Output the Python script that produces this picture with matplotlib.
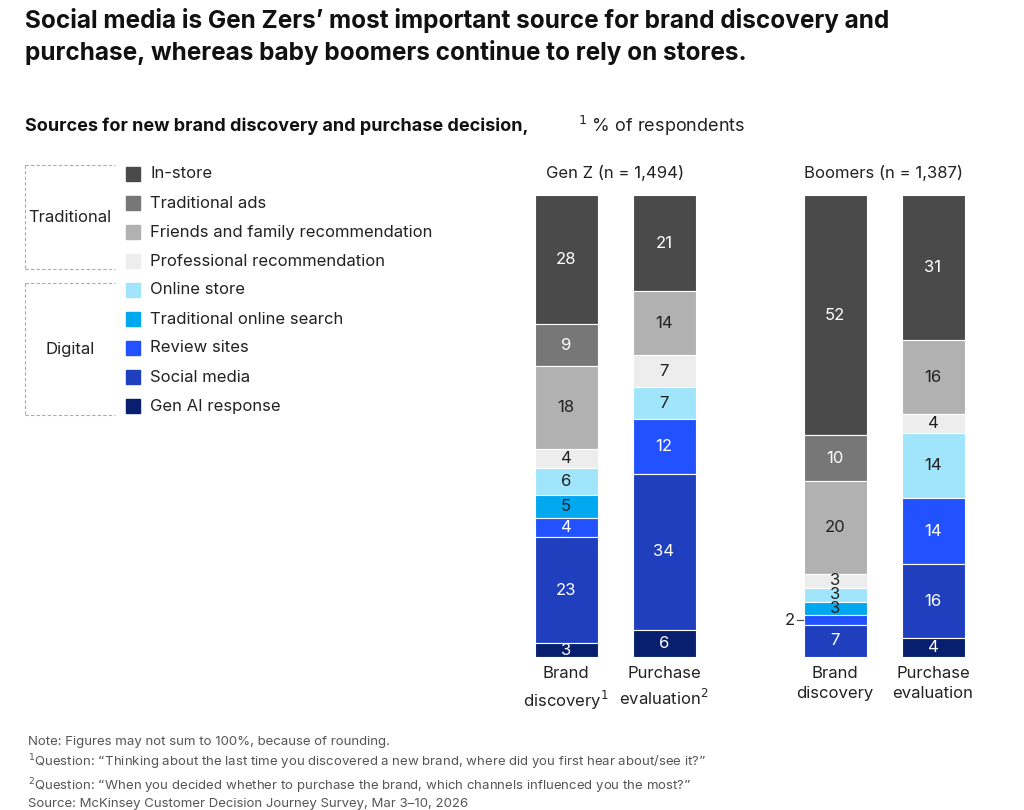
import matplotlib.pyplot as plt
import numpy as np

plt.rcParams['font.family'] = ['Inter', 'DejaVu Sans']

categories = ['In-store', 'Traditional ads', 'Friends and family recommendation',
              'Professional recommendation', 'Online store', 'Traditional online search',
              'Review sites', 'Social media', 'Gen AI response']
colors = ['#4a4a4a', '#777777', '#b1b1b1', '#ededed', '#a0e5fb',
          '#00a8f0', '#2251ff', '#1f3fbf', '#071f6e']
text_col = ['w', 'w', '#222', '#222', '#222', '#222', 'w', 'w', 'w']

genz_brand = [28, 9, 18, 4, 6, 5, 4, 23, 3]
genz_purchase = [21, 0, 14, 7, 7, 0, 12, 34, 6]
boom_brand = [52, 10, 20, 3, 3, 3, 2, 7, 0]
boom_purchase = [31, 0, 16, 4, 14, 0, 14, 16, 4]
series = [genz_brand, genz_purchase, boom_brand, boom_purchase]
xpos = [566, 664, 835, 933]
xlabels = ['Brand\ndiscovery$^1$', 'Purchase\nevaluation$^2$', 'Brand\ndiscovery', 'Purchase\nevaluation']

fig = plt.figure(figsize=(10.24, 8.1), dpi=100)
W, H = 1024, 810
ax = fig.add_axes([500 / W, 1 - 657 / H, 500 / W, 462 / H])
ax.set_xlim(500, 1000)

for x, vals in zip(xpos, series):
    total = sum(vals)
    top = 0
    for i, v in enumerate(vals):
        if v == 0:
            continue
        h = v / total
        ax.bar(x, h, bottom=1 - top - h, width=63, color=colors[i], edgecolor='white', linewidth=0.8)
        yc = 1 - top - h / 2
        if v == 2:
            ax.plot([x - 38, x - 32], [yc, yc], color='#444', lw=0.8)
            ax.text(x - 40, yc, str(v), ha='right', va='center', fontsize=12, color='#222')
        else:
            ax.text(x, yc, str(v), ha='center', va='center', fontsize=12, color=text_col[i])
        top += h
    ax.text(x, -0.02, xlabels[xpos.index(x)], ha='center', va='top', fontsize=12, color='#222',
            linespacing=1.4)
ax.set_ylim(0, 1)
ax.axis('off')

ax.text(615, 1.03, 'Gen Z (n = 1,494)', ha='center', va='bottom', fontsize=12, color='#222')
ax.text(884, 1.03, 'Boomers (n = 1,387)', ha='center', va='bottom', fontsize=12, color='#222')

fig.text(25 / W, 1 - 8 / H, "Social media is Gen Zers\u2019 most important source for brand discovery and\n"
         "purchase, whereas baby boomers continue to rely on stores.",
         fontsize=17.5, fontweight='bold', va='top', color='#111', linespacing=1.35)
fig.text(25 / W, 1 - 126 / H, 'Sources for new brand discovery and purchase decision,',
         fontsize=13, fontweight='bold', va='center', color='#111')
fig.text(578 / W, 1 - 126 / H, '$^1$ % of respondents', fontsize=13, va='center', color='#222')

# legend
for i, c in enumerate(categories):
    y = 1 - (174 + 29 * i) / H
    fig.patches.append(plt.Rectangle((126 / W, y - 7 / H), 14 / W, 14 / H, color=colors[i],
                                     transform=fig.transFigure))
    fig.text(150 / W, y, c, fontsize=12, va='center', color='#222')

def bracket(y0, y1, label):
    kw = dict(color='#aaa', lw=0.8, ls=(0, (3, 2)), transform=fig.transFigure)
    fig.lines.append(plt.Line2D([25 / W, 115 / W], [1 - y0 / H] * 2, **kw))
    fig.lines.append(plt.Line2D([25 / W, 115 / W], [1 - y1 / H] * 2, **kw))
    fig.lines.append(plt.Line2D([25 / W, 25 / W], [1 - y0 / H, 1 - y1 / H], **kw))
    fig.text(70 / W, 1 - (y0 + y1) / 2 / H, label, fontsize=12, ha='center', va='center', color='#222')

bracket(165, 269, 'Traditional')
bracket(283, 415, 'Digital')

notes = ("Note: Figures may not sum to 100%, because of rounding.\n"
         "$^1$Question: \u201cThinking about the last time you discovered a new brand, where did you first hear about/see it?\u201d\n"
         "$^2$Question: \u201cWhen you decided whether to purchase the brand, which channels influenced you the most?\u201d\n"
         "Source: McKinsey Customer Decision Journey Survey, Mar 3\u201310, 2026")
fig.text(28 / W, 1 - 736 / H, notes, fontsize=9.5, va='top', color='#555', linespacing=1.3)

fig.savefig('out.png', dpi=100)
